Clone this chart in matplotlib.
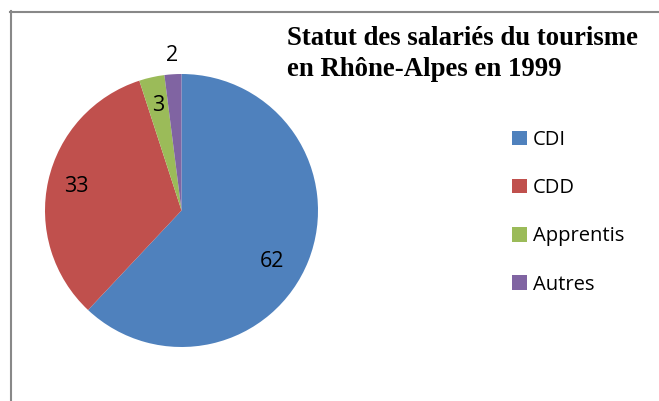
import numpy as np
import matplotlib
matplotlib.use("Agg")
import matplotlib.pyplot as plt
from matplotlib.lines import Line2D
from matplotlib.patches import Patch

categories = ["CDI", "CDD", "Apprentis", "Autres"]
values = [62, 33, 3, 2]
colors = ["#4F81BD", "#C0504D", "#9BBB59", "#8064A2"]
title = "Statut des salariés du tourisme\nen Rhône-Alpes en 1999"

W, H = 659, 401
fig = plt.figure(figsize=(W / 100, H / 100), dpi=100)

# pie placé en pixels : centre (181.5, 210.5), rayon 136.5
cx, cy, r = 181.5, 210.5, 136.5
ax = fig.add_axes([(cx - r) / W, (H - cy - r) / H, 2 * r / W, 2 * r / H])
wedges, _ = ax.pie(values, colors=colors, startangle=90, counterclock=False,
                   radius=1, wedgeprops=dict(linewidth=0))
ax.set_xlim(-1, 1)
ax.set_ylim(-1, 1)
ax.set_aspect("equal")
ax.axis("off")

# étiquettes de valeurs (distance relative au rayon, décalage d'angle en degrés)
dist = [0.76, 0.79, 0.79, 1.14]
decal = [-8, 0, 0, 0]
for w, v, d, da in zip(wedges, values, dist, decal):
    ang = np.deg2rad((w.theta1 + w.theta2) / 2 + da)
    ax.text(d * np.cos(ang), d * np.sin(ang), str(v), ha="center", va="center",
            fontsize=15.5, family="Open Sans", color="black", clip_on=False)

# titre
fig.text(287 / W, 1 - 26 / H, title, ha="left", va="top", fontsize=19.3,
         family="Liberation Serif", fontweight="bold", linespacing=1.3)

# légende
handles = [Patch(facecolor=c, edgecolor="none") for c in colors]
fig.legend(handles, categories, loc="upper left", bbox_to_anchor=(512 / W, 1 - 130 / H),
           frameon=False, prop={"family": "Open Sans", "size": 14.5}, handlelength=0.72,
           handleheight=0.72, handletextpad=0.3, labelspacing=1.4, borderpad=0,
           borderaxespad=0)

# cadre gris (haut et gauche)
fig.add_artist(Line2D([10 / W, 1], [1 - 11.5 / H] * 2, color="#888888", lw=1.5))
fig.add_artist(Line2D([10.5 / W] * 2, [0, 1 - 11 / H], color="#888888", lw=1.5))

fig.savefig("out.png", dpi=100)
